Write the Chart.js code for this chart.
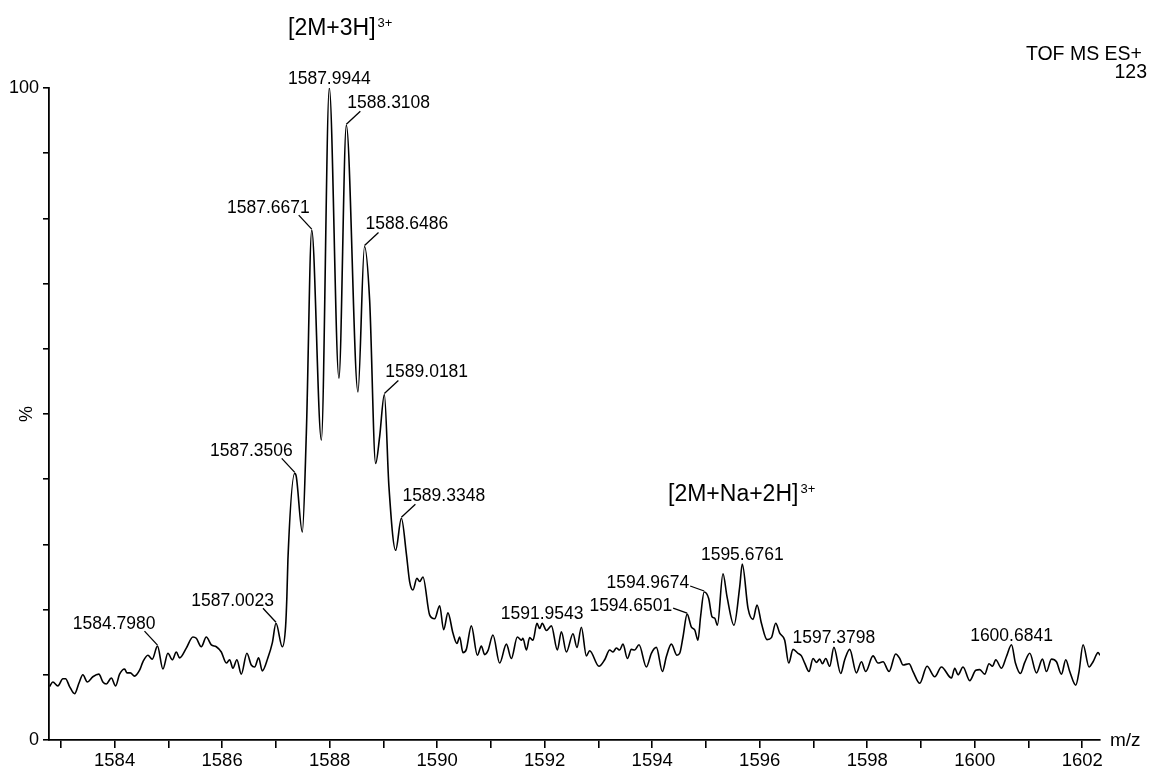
<!DOCTYPE html>
<html>
<head>
<meta charset="utf-8">
<script src="https://cdn.jsdelivr.net/npm/chart.js@4.4.1/dist/chart.umd.min.js"></script>
<style>
  html, body { margin: 0; padding: 0; background: #fff; }
  #wrap { width: 1151px; height: 773px; position: relative; }
</style>
</head>
<body>
<div id="wrap"><canvas id="spectrum"></canvas></div>
<script>
// m/z values of the trace
var mz = [
  1582.791, 1582.852, 1582.945, 1583.038, 1583.088, 1583.163, 1583.256, 1583.336, 1583.410, 1583.492,
  1583.596, 1583.708, 1583.782, 1583.846, 1583.939, 1584.019, 1584.093, 1584.186, 1584.229, 1584.292,
  1584.372, 1584.465, 1584.527, 1584.620, 1584.701, 1584.798, 1584.899, 1584.992, 1585.074, 1585.148,
  1585.209, 1585.334, 1585.457, 1585.520, 1585.613, 1585.706, 1585.799, 1585.892, 1585.985, 1586.078,
  1586.140, 1586.201, 1586.275, 1586.357, 1586.461, 1586.543, 1586.605, 1586.679, 1586.748, 1586.852,
  1586.934, 1587.002, 1587.120, 1587.181, 1587.205, 1587.224, 1587.351, 1587.380, 1587.492, 1587.567,
  1587.667, 1587.846, 1587.994, 1588.173, 1588.311, 1588.527, 1588.649, 1588.744, 1588.856, 1588.930,
  1589.018, 1589.103, 1589.228, 1589.335, 1589.427, 1589.488, 1589.550, 1589.624, 1589.674, 1589.736,
  1589.860, 1589.953, 1590.047, 1590.121, 1590.201, 1590.294, 1590.368, 1590.419, 1590.480, 1590.543,
  1590.636, 1590.748, 1590.822, 1590.884, 1590.945, 1591.038, 1591.163, 1591.288, 1591.380, 1591.492,
  1591.567, 1591.596, 1591.660, 1591.721, 1591.782, 1591.857, 1591.907, 1591.954, 1592.032, 1592.125,
  1592.236, 1592.311, 1592.404, 1592.527, 1592.601, 1592.683, 1592.776, 1592.837, 1593.010, 1593.116,
  1593.209, 1593.271, 1593.334, 1593.395, 1593.457, 1593.539, 1593.613, 1593.674, 1593.755, 1593.892,
  1593.985, 1594.078, 1594.190, 1594.264, 1594.357, 1594.461, 1594.512, 1594.573, 1594.650, 1594.730,
  1594.791, 1594.852, 1594.900, 1594.967, 1595.051, 1595.113, 1595.163, 1595.213, 1595.317, 1595.392,
  1595.522, 1595.628, 1595.676, 1595.783, 1595.876, 1595.950, 1596.032, 1596.136, 1596.218, 1596.298,
  1596.372, 1596.465, 1596.540, 1596.620, 1596.713, 1596.776, 1596.837, 1596.917, 1596.992, 1597.055,
  1597.116, 1597.167, 1597.228, 1597.302, 1597.380, 1597.507, 1597.581, 1597.674, 1597.799, 1597.892,
  1597.972, 1598.108, 1598.201, 1598.294, 1598.406, 1598.530, 1598.605, 1598.666, 1598.778, 1598.852,
  1598.977, 1599.113, 1599.256, 1599.380, 1599.567, 1599.628, 1599.690, 1599.782, 1599.907, 1600.019,
  1600.093, 1600.186, 1600.266, 1600.330, 1600.391, 1600.497, 1600.590, 1600.684, 1600.757, 1600.850,
  1600.930, 1601.023, 1601.148, 1601.260, 1601.334, 1601.427, 1601.520, 1601.613, 1601.693, 1601.767,
  1601.879, 1601.940, 1602.015, 1602.126, 1602.201, 1602.294, 1602.330
];
// relative intensity, %
var intensity = [
  8.2, 8.9, 8.3, 9.4, 9.4, 8.2, 7.1, 8.7, 10.0, 8.9,
  9.7, 10.1, 8.9, 8.6, 9.5, 8.3, 10.1, 10.9, 10.3, 10.3,
  9.8, 10.7, 12.0, 13.0, 12.4, 14.4, 10.9, 13.3, 12.3, 13.5,
  12.6, 14.1, 15.8, 15.6, 14.3, 15.8, 14.6, 14.3, 13.5, 11.8,
  12.3, 11.0, 12.3, 10.1, 13.3, 11.5, 11.2, 12.6, 10.6, 12.6,
  14.9, 17.9, 14.3, 17.4, 22.0, 27.6, 40.9, 40.4, 31.9, 47.1,
  78.2, 46.0, 100, 55.5, 94.3, 53.4, 75.7, 67.5, 42.4, 46.5,
  53.0, 38.9, 29.1, 34.0, 28.6, 24.3, 23.0, 24.8, 24.3, 25.0,
  19.2, 18.6, 20.6, 16.9, 19.5, 16.4, 14.8, 15.8, 13.4, 13.9,
  17.5, 13.0, 14.4, 13.1, 13.7, 16.1, 11.8, 14.7, 12.5, 15.8,
  15.3, 15.6, 13.8, 15.7, 15.3, 17.9, 17.1, 17.9, 16.8, 17.5,
  13.8, 16.6, 13.5, 16.3, 14.2, 17.3, 12.9, 13.7, 11.3, 12.3,
  13.8, 13.5, 14.1, 13.8, 14.7, 12.5, 13.9, 13.8, 14.6, 11.2,
  13.3, 14.2, 10.5, 12.8, 14.7, 13.0, 13.3, 15.8, 19.3, 17.3,
  16.9, 15.3, 18.9, 22.7, 21.7, 18.9, 18.7, 17.6, 25.5, 22.0,
  17.6, 23.5, 27.0, 20.2, 18.5, 20.7, 17.9, 15.4, 15.7, 17.9,
  16.4, 15.3, 11.8, 13.9, 13.3, 12.9, 11.8, 10.5, 12.5, 11.9,
  12.4, 11.7, 12.5, 11.3, 14.2, 10.2, 12.3, 13.9, 10.3, 12.0,
  10.5, 12.9, 11.8, 12.0, 10.5, 13.2, 12.5, 11.5, 11.7, 10.5,
  8.7, 11.3, 9.7, 11.2, 9.5, 11.0, 10.0, 11.2, 9.1, 10.7,
  10.8, 10.1, 11.7, 11.3, 12.3, 11.0, 12.8, 14.6, 11.8, 10.2,
  11.9, 13.3, 10.3, 12.4, 10.5, 12.4, 12.0, 10.1, 12.3, 10.5,
  8.4, 10.5, 14.6, 11.2, 12.0, 13.4, 13.0
];
var peakLabelMz = [1584.7980, 1587.0023, 1587.3506, 1587.6671, 1587.9944, 1588.3108, 1588.6486,
  1589.0181, 1589.3348, 1591.9543, 1594.6501, 1594.9674, 1595.6761, 1597.3798, 1600.6841];
var ionNames = ['[2M+3H]', '[2M+Na+2H]'];
var ionCharge = '3+';

// label placement (not data)
var peakLabelSide = ['ul', 'ul', 'ul', 'ul', 'top', 'ur', 'ur', 'ur', 'ur', 'top', 'l', 'l', 'top', 'top', 'top'];
var ionPos = [{ x: 288, y: 35 }, { x: 668, y: 501 }];

var FONT = '"Liberation Sans", Arial, Helvetica, sans-serif';
Chart.defaults.font.family = FONT;
Chart.defaults.color = '#000';

function nearestIndex(m) {
  var best = 0;
  for (var i = 1; i < mz.length; i++) {
    if (Math.abs(mz[i] - m) < Math.abs(mz[best] - m)) best = i;
  }
  return best;
}

var annotate = {
  id: 'annotate',
  afterDraw: function (chart) {
    var ctx = chart.ctx;
    var xs = chart.scales.x, ys = chart.scales.y;
    ctx.save();
    ctx.fillStyle = '#000';
    ctx.strokeStyle = '#000';
    ctx.lineWidth = 1.3;
    ctx.textBaseline = 'alphabetic';
    ctx.font = '17.5px ' + FONT;
    peakLabelMz.forEach(function (m, i) {
      var idx = nearestIndex(m);
      var px = xs.getPixelForValue(mz[idx]);
      var py = ys.getPixelForValue(intensity[idx]);
      var txt = m.toFixed(4);
      var side = peakLabelSide[i];
      var ex, ey;
      if (side === 'top') {
        ctx.textAlign = 'center';
        ctx.fillText(txt, px, py - 4);
        return;
      }
      if (side === 'ul') { ex = px - 13; ey = py - 15; }
      else if (side === 'ur') { ex = px + 14; ey = py - 14; }
      else { ex = px - 14; ey = py - 6; }
      ctx.beginPath();
      ctx.moveTo(px, py - 1);
      ctx.lineTo(ex, ey);
      ctx.stroke();
      if (side === 'ul') { ctx.textAlign = 'right'; ctx.fillText(txt, ex + 11, ey - 2); }
      else if (side === 'ur') { ctx.textAlign = 'left'; ctx.fillText(txt, ex - 13, ey - 3); }
      else { ctx.textAlign = 'right'; ctx.fillText(txt, ex - 1, ey + 2.5); }
    });

    // ion assignments
    ionNames.forEach(function (name, i) {
      ctx.textAlign = 'left';
      ctx.font = '23px ' + FONT;
      ctx.fillText(name, ionPos[i].x, ionPos[i].y);
      var w = ctx.measureText(name).width;
      ctx.font = '13px ' + FONT;
      ctx.fillText(ionCharge, ionPos[i].x + w + 2, ionPos[i].y - 8);
    });

    // instrument text
    ctx.font = '19.5px ' + FONT;
    ctx.textAlign = 'right';
    ctx.fillText('TOF MS ES+', 1142, 60);
    ctx.fillText('123', 1147, 78);

    // axis titles
    ctx.font = '19px ' + FONT;
    ctx.textAlign = 'left';
    ctx.fillText('m/z', xs.right + 10, ys.bottom + 6);
    ctx.save();
    ctx.translate(27, ys.getPixelForValue(50));
    ctx.rotate(-Math.PI / 2);
    ctx.textAlign = 'center';
    ctx.textBaseline = 'middle';
    ctx.font = '18px ' + FONT;
    ctx.fillText('%', 0, 0);
    ctx.restore();
    ctx.restore();
  }
};

var points = mz.map(function (m, i) { return { x: m, y: intensity[i] }; });

new Chart(document.getElementById('spectrum'), {
  type: 'line',
  data: {
    datasets: [{
      data: points,
      borderColor: '#000',
      borderWidth: 1.6,
      pointRadius: 0,
      cubicInterpolationMode: 'monotone',
      fill: false
    }]
  },
  options: {
    responsive: true,
    maintainAspectRatio: false,
    animation: false,
    devicePixelRatio: 1,
    layout: { padding: { top: 88, right: 51, left: 0, bottom: 0 } },
    plugins: { legend: { display: false }, tooltip: { enabled: false } },
    scales: {
      x: {
        type: 'linear',
        min: 1582.78,
        max: 1602.33,
        border: { display: true, color: '#000', width: 1.8 },
        grid: { drawOnChartArea: false, drawTicks: true, tickLength: 8, tickColor: '#000', lineWidth: 1.6 },
        ticks: {
          stepSize: 1,
          includeBounds: false,
          autoSkip: false,
          maxRotation: 0,
          padding: 2,
          font: { size: 18.5 },
          color: '#000',
          callback: function (v) {
            var r = Math.round(v);
            return r % 2 === 0 ? String(r) : '';
          }
        },
        afterFit: function (scale) { scale.height = 33; }
      },
      y: {
        min: 0,
        max: 100,
        border: { display: true, color: '#000', width: 1.8 },
        grid: { drawOnChartArea: false, drawTicks: true, tickLength: 6, tickColor: '#000', lineWidth: 1.6 },
        ticks: {
          stepSize: 10,
          padding: 4,
          font: { size: 18 },
          color: '#000',
          callback: function (v) {
            return (v === 0 || v === 100) ? String(v) : '';
          }
        },
        afterFit: function (scale) { scale.width = 49; }
      }
    }
  },
  plugins: [annotate]
});
</script>
</body>
</html>
